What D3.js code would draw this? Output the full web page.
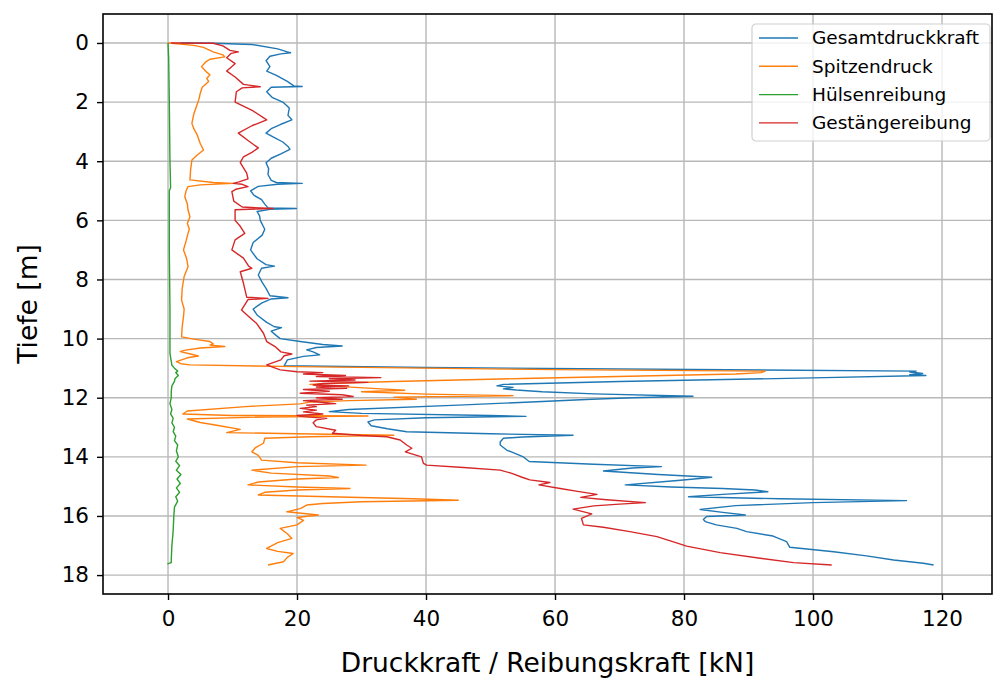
<!DOCTYPE html>
<html>
<head>
<meta charset="utf-8">
<script src="https://cdn.jsdelivr.net/npm/d3@7/dist/d3.min.js"></script>
<style>
  body { margin: 0; background: #fff; }
  svg text { font-family: "DejaVu Sans", sans-serif; fill: #000; }
</style>
</head>
<body>
<svg id="chart" width="993" height="682"></svg>
<script>
// Sondierprofil: Kräfte über die Tiefe, je Punkt [Tiefe m, Kraft kN]
const seriesNames = ["Gesamtdruckkraft", "Spitzendruck", "Hülsenreibung", "Gestängereibung"];
const seriesColors = ["#1f77b4", "#ff7f0e", "#2ca02c", "#d62728"];

const gesamtdruckkraft = [
  [0.00, 2], [0.01, 7], [0.05, 13], [0.2, 17], [0.3, 18.5], [0.33, 19], [0.37, 17.5], [0.45, 15.8],
  [0.6, 15.2], [0.8, 15.8], [0.95, 15.3], [1.1, 16.8], [1.3, 18.5], [1.45, 19.5], [1.47, 20.8],
  [1.5, 16], [1.65, 15.3], [1.85, 16.2], [2.0, 17.8], [2.2, 18.8], [2.45, 18.6], [2.6, 19.2],
  [2.75, 17.5], [2.9, 16], [3.05, 15.2], [3.2, 16.5], [3.35, 17.8], [3.5, 18.6], [3.6, 18.9],
  [3.75, 17.5], [3.9, 16], [4.05, 15.2], [4.25, 15.6], [4.45, 15.5], [4.65, 16], [4.72, 16.8],
  [4.75, 20.8], [4.78, 17], [4.85, 14], [5.0, 12.8], [5.15, 13.3], [5.3, 14.5], [5.45, 15],
  [5.58, 15.5], [5.6, 19.9], [5.63, 15.8], [5.7, 13.8], [5.85, 14.2], [6.0, 14.3], [6.3, 15],
  [6.5, 14.6], [6.75, 13.2], [7.0, 12.8], [7.3, 13.8], [7.5, 15.2], [7.55, 16.5], [7.62, 14.5],
  [7.85, 14], [8.1, 14.6], [8.3, 15.2], [8.55, 15.8], [8.62, 18.6], [8.66, 16], [8.8, 14.5],
  [9.0, 13.2], [9.2, 13.8], [9.45, 15.3], [9.6, 16.5], [9.63, 17.6], [9.75, 16], [9.9, 16.8],
  [10.0, 17.4], [10.1, 20.5], [10.2, 24], [10.25, 27], [10.3, 23], [10.38, 21.5], [10.45, 22.5],
  [10.55, 23.5], [10.6, 21], [10.72, 18.5], [10.85, 18.2], [10.92, 18], [10.98, 40], [11.1, 116],
  [11.13, 115], [11.18, 117], [11.22, 115], [11.25, 117.5], [11.33, 100], [11.45, 70], [11.55, 52],
  [11.6, 51], [11.65, 53.5], [11.7, 52], [11.74, 54], [11.8, 58], [11.87, 66], [11.95, 81.4],
  [12.0, 72], [12.05, 65.7], [12.13, 58], [12.25, 45], [12.4, 28], [12.47, 25], [12.53, 30],
  [12.6, 50], [12.63, 55.5], [12.68, 40], [12.75, 32], [12.82, 31], [12.95, 31.5], [13.05, 34],
  [13.15, 37], [13.22, 50], [13.27, 62.8], [13.33, 55], [13.37, 52], [13.5, 51.5], [13.6, 51.5],
  [13.77, 52.5], [13.99, 55], [14.16, 56], [14.25, 66], [14.33, 76.5], [14.38, 72], [14.48, 67.5],
  [14.6, 76], [14.69, 84.3], [14.74, 82], [14.8, 79], [14.95, 70.9], [15.02, 78], [15.07, 86],
  [15.12, 91], [15.18, 93], [15.27, 86], [15.35, 80.7], [15.42, 95], [15.48, 114.5], [15.55, 100],
  [15.65, 88], [15.78, 82.5], [15.88, 86], [15.97, 89.5], [16.02, 83.5], [16.12, 83], [16.19, 83.3],
  [16.3, 85], [16.42, 88.2], [16.53, 89.7], [16.68, 93.8], [16.87, 95.9], [17.06, 96.4],
  [17.21, 103.2], [17.35, 108.3], [17.49, 112.5], [17.6, 117.1], [17.66, 118.7]
];

const spitzendruck = [
  [0.0, 0], [0.02, 1], [0.08, 4], [0.15, 5.5], [0.3, 7], [0.4, 8.5], [0.47, 8.8], [0.55, 6.5],
  [0.65, 5.8], [0.8, 5.2], [0.95, 5.8], [1.08, 6.5], [1.2, 6], [1.3, 6.3], [1.5, 5.3], [1.7, 5],
  [1.9, 4.8], [2.15, 4.4], [2.4, 4], [2.72, 3.7], [2.9, 4], [3.1, 4.5], [3.4, 5], [3.62, 5.5],
  [3.8, 4.5], [3.96, 3.7], [4.3, 3.5], [4.63, 3.4], [4.72, 7], [4.75, 10.1], [4.8, 5], [4.86, 3.1],
  [5.0, 2.8], [5.2, 2.6], [5.45, 3], [5.65, 3.1], [5.88, 3.4], [6.1, 3], [6.3, 3.3], [6.44, 3.1],
  [6.7, 2.8], [7.0, 2.4], [7.3, 2.9], [7.57, 3.1], [7.9, 2.5], [8.3, 2.2], [8.7, 2.1], [9.0, 2.5],
  [9.26, 2.4], [9.6, 2.2], [9.94, 2.1], [10.02, 4], [10.1, 6.5], [10.18, 7], [10.22, 6.5],
  [10.27, 8.8], [10.32, 5], [10.4, 2.5], [10.44, 1.9], [10.52, 3.5], [10.59, 4.7], [10.65, 3],
  [10.78, 1.3], [10.85, 2], [10.89, 3.4], [10.95, 20], [11.05, 60], [11.1, 92.6], [11.15, 92],
  [11.2, 88], [11.25, 77], [11.35, 55], [11.45, 35], [11.5, 27], [11.55, 22], [11.6, 25],
  [11.7, 33], [11.75, 36.7], [11.8, 30], [11.88, 40], [11.93, 53.5], [11.98, 35], [12.05, 38.5],
  [12.1, 28], [12.15, 22], [12.21, 20.5], [12.3, 12], [12.45, 3], [12.55, 2.3], [12.6, 10],
  [12.62, 31], [12.65, 15], [12.72, 3], [12.84, 5], [12.95, 8], [13.07, 11.2], [13.18, 9.1],
  [13.22, 20], [13.27, 35], [13.32, 22], [13.37, 15], [13.54, 14.8], [13.7, 13.5], [13.83, 13],
  [13.95, 14], [14.11, 14.5], [14.2, 20], [14.28, 30.7], [14.33, 20], [14.45, 13], [14.55, 16],
  [14.65, 25], [14.7, 26.4], [14.75, 20], [14.85, 14], [14.95, 12.4], [15.02, 20], [15.07, 28.2],
  [15.12, 20], [15.2, 15], [15.29, 14], [15.35, 25], [15.42, 38], [15.47, 45], [15.52, 30],
  [15.58, 24], [15.63, 21.5], [15.75, 20.5], [15.86, 18.4], [15.97, 23.3], [16.05, 20],
  [16.15, 21], [16.3, 20], [16.42, 17.4], [16.6, 18.5], [16.76, 19.2], [16.9, 17], [17.1, 15.3],
  [17.2, 17], [17.27, 19.4], [17.4, 18.5], [17.55, 17.9], [17.66, 15.5]
];

const huelsenreibung = [
  [0.0, 0], [0.5, 0.1], [2, 0.2], [4, 0.3], [4.9, 0.4], [5.0, 0.2], [7, 0.2], [9, 0.3],
  [10.5, 0.3], [10.9, 0.6], [11.0, 1.0], [11.1, 1.5], [11.15, 1.2], [11.25, 1.6], [11.35, 1.1],
  [11.45, 1.0], [11.6, 0.6], [11.8, 0.5], [12.0, 0.5], [12.2, 0.3], [12.4, 0.6], [12.55, 0.4],
  [12.7, 0.8], [12.85, 0.6], [13.0, 1.0], [13.15, 0.8], [13.3, 1.2], [13.45, 1.0], [13.6, 1.5],
  [13.8, 1.3], [14.0, 1.6], [14.15, 1.2], [14.3, 1.8], [14.45, 1.3], [14.6, 2.0], [14.75, 1.4],
  [14.9, 1.9], [15.05, 1.3], [15.2, 1.8], [15.35, 1.2], [15.5, 1.5], [15.7, 1.0], [16.0, 0.9],
  [16.5, 0.8], [17.0, 0.6], [17.5, 0.5], [17.58, 0.5], [17.62, -0.1]
];

const gestaengereibung = [
  [0.0, 0.5], [0.01, 7], [0.1, 8.5], [0.25, 9.6], [0.3, 10.9], [0.35, 9.8], [0.5, 9.1], [0.7, 10.4],
  [0.95, 9.1], [1.15, 10.4], [1.4, 11.7], [1.48, 14.3], [1.52, 11.5], [1.65, 10.6], [2.0, 10.4],
  [2.3, 13.2], [2.6, 15.3], [2.8, 13], [3.05, 10.9], [3.3, 12.4], [3.55, 14], [3.7, 13],
  [3.85, 11.7], [4.05, 11.2], [4.4, 12.2], [4.6, 12.4], [4.7, 11], [4.75, 10.1], [4.78, 11.5],
  [4.86, 12.4], [4.95, 10.5], [5.03, 9.9], [5.35, 10.2], [5.55, 11.5], [5.6, 16.3], [5.64, 10.4],
  [6.0, 10.4], [6.2, 11.2], [6.44, 11.9], [6.66, 10.4], [7.0, 9.9], [7.28, 11.7], [7.55, 12.5],
  [7.62, 13], [7.74, 11.2], [8.13, 11.7], [8.6, 12.2], [8.64, 15.5], [8.68, 12.4], [9.03, 11.4],
  [9.25, 12.5], [9.48, 13.7], [9.82, 14.8], [10.1, 15.3], [10.27, 16.6], [10.45, 17.5],
  [10.52, 19.2], [10.58, 18], [10.72, 17.5], [10.89, 15.3], [10.95, 16], [11.06, 17.4],
  [11.12, 20], [11.15, 24], [11.2, 21], [11.25, 27.5], [11.28, 23], [11.32, 33], [11.36, 25],
  [11.4, 29], [11.44, 22], [11.48, 31], [11.52, 24], [11.57, 22.5], [11.6, 28], [11.64, 23],
  [11.68, 27.7], [11.72, 21], [11.78, 25], [11.85, 20.5], [11.9, 27], [11.96, 28.7], [12.0, 23],
  [12.05, 27], [12.1, 21], [12.13, 22.5], [12.2, 26], [12.25, 21.5], [12.3, 23], [12.36, 20.5],
  [12.42, 23], [12.48, 21], [12.55, 24], [12.6, 20], [12.64, 21], [12.7, 24.6], [12.75, 23],
  [12.85, 22.5], [12.98, 23], [13.1, 26], [13.2, 25.5], [13.28, 30], [13.32, 33.9], [13.43, 36],
  [13.6, 37], [13.71, 37.8], [13.83, 36.8], [14.0, 39.3], [14.22, 39.6], [14.28, 40.1],
  [14.36, 45.8], [14.45, 51.5], [14.56, 53.3], [14.7, 55], [14.78, 56.1], [14.87, 59.2],
  [14.95, 57.5], [15.07, 60.8], [15.17, 63.5], [15.27, 66.5], [15.37, 64], [15.45, 68],
  [15.55, 74], [15.6, 70], [15.66, 66], [15.77, 62.8], [15.93, 65.7], [16.08, 64.1], [16.3, 64.4],
  [16.38, 67.5], [16.53, 71.6], [16.7, 75.8], [16.85, 78], [17.02, 80.4], [17.24, 85.6],
  [17.43, 91.8], [17.58, 97], [17.66, 102.9]
];

const xTicks = [0, 20, 40, 60, 80, 100, 120];
const yTicks = [0, 2, 4, 6, 8, 10, 12, 14, 16, 18];
const xLabel = "Druckkraft / Reibungskraft [kN]";
const yLabel = "Tiefe [m]";

const allSeries = [gesamtdruckkraft, spitzendruck, huelsenreibung, gestaengereibung];

// Plot frame
const plot = { left: 103, top: 14, right: 992, bottom: 594 };
const svg = d3.select("#chart");

const x = d3.scaleLinear().domain([-10.08, 127.75]).range([plot.left, plot.right]);
const y = d3.scaleLinear().domain([-0.98, 18.64]).range([plot.top, plot.bottom]);

svg.append("defs").append("clipPath").attr("id", "plotClip")
  .append("rect")
  .attr("x", plot.left).attr("y", plot.top)
  .attr("width", plot.right - plot.left).attr("height", plot.bottom - plot.top);

// Grid
const grid = svg.append("g").attr("class", "grid");
grid.selectAll("line.gx").data(xTicks).join("line")
  .attr("x1", d => x(d)).attr("x2", d => x(d))
  .attr("y1", plot.top).attr("y2", plot.bottom)
  .attr("stroke", "#b8b8b8").attr("stroke-width", 1.4);
grid.selectAll("line.gy").data(yTicks).join("line")
  .attr("y1", d => y(d)).attr("y2", d => y(d))
  .attr("x1", plot.left).attr("x2", plot.right)
  .attr("stroke", "#b8b8b8").attr("stroke-width", 1.4);

// Series lines
const line = d3.line().x(d => x(d[1])).y(d => y(d[0]));
const lines = svg.append("g").attr("clip-path", "url(#plotClip)");
allSeries.forEach((data, i) => {
  lines.append("path")
    .datum(data)
    .attr("d", line)
    .attr("fill", "none")
    .attr("stroke", seriesColors[i])
    .attr("stroke-width", 1.4)
    .attr("stroke-linejoin", "round");
});

// Axes
const xAxis = d3.axisBottom(x).tickValues(xTicks).tickSize(6).tickPadding(11).tickFormat(d3.format("d"));
const yAxis = d3.axisLeft(y).tickValues(yTicks).tickSize(6).tickPadding(8).tickFormat(d3.format("d"));

const gx = svg.append("g").attr("transform", `translate(0,${plot.bottom})`).call(xAxis);
const gy = svg.append("g").attr("transform", `translate(${plot.left},0)`).call(yAxis);
[gx, gy].forEach(g => {
  g.select(".domain").remove();
  g.selectAll(".tick line").attr("stroke", "#000").attr("stroke-width", 1.4);
  g.selectAll(".tick text").attr("font-size", 21.5).attr("font-family", "DejaVu Sans");
});

// Spines
svg.append("rect")
  .attr("x", plot.left).attr("y", plot.top)
  .attr("width", plot.right - plot.left).attr("height", plot.bottom - plot.top)
  .attr("fill", "none").attr("stroke", "#000").attr("stroke-width", 1.6);

// Axis labels
svg.append("text")
  .attr("x", (x(-10.08) + x(127.75)) / 2).attr("y", 672)
  .attr("text-anchor", "middle").attr("font-size", 26.5)
  .text(xLabel);
svg.append("text")
  .attr("transform", `translate(37,${(plot.top + plot.bottom) / 2}) rotate(-90)`)
  .attr("text-anchor", "middle").attr("font-size", 26.5)
  .text(yLabel);

// Legend
const legend = svg.append("g").attr("transform", "translate(752,24)");
legend.append("rect")
  .attr("width", 238).attr("height", 117).attr("rx", 4)
  .attr("fill", "#fff").attr("fill-opacity", 0.8)
  .attr("stroke", "#d0d0d0").attr("stroke-width", 1.2);
seriesNames.forEach((name, i) => {
  const row = legend.append("g").attr("transform", `translate(0,${14 + i * 28.3})`);
  row.append("line").attr("x1", 7).attr("x2", 46).attr("y1", 0).attr("y2", 0)
    .attr("stroke", seriesColors[i]).attr("stroke-width", 1.4);
  row.append("text").attr("x", 60).attr("y", 0).attr("dy", "0.35em")
    .attr("font-size", 18.5).text(name);
});
</script>
</body>
</html>
